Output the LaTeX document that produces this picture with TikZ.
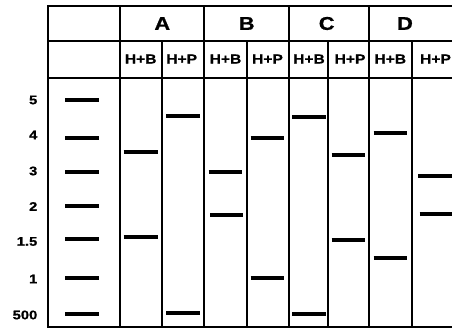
\documentclass[tikz,border=0pt]{standalone}
\usepackage{fontspec}
\setmainfont{Liberation Sans}
\newfontfamily\heavyfont[FakeBold=0.8]{Liberation Sans Bold}
\usetikzlibrary{positioning}
\newcommand{\wide}[1]{\scalebox{1.18}[1]{#1}}

\begin{document}
\begin{tikzpicture}[x=1pt, y=-1pt,
    gridline/.style={line width=2pt, line cap=rect},
    band/.style={line width=4pt},
    lanehead/.style={font=\heavyfont\fontsize{18.5}{18.5}\selectfont, inner sep=0pt},
    sublabel/.style={font=\heavyfont\fontsize{13.2}{13.2}\selectfont, inner sep=0pt},
    sizelabel/.style={font=\heavyfont\fontsize{12.5}{12.5}\selectfont, inner sep=0pt, anchor=east}]
    \useasboundingbox (0,0) rectangle (452,329);

    % Table rules
    \draw[gridline] (48,6) -- (460,6);
    \draw[gridline] (48,40.7) -- (460,40.7);
    \draw[gridline] (48,78) -- (460,78);
    \draw[gridline] (48,327) -- (460,327);
    \draw[gridline] (48,6) -- (48,327);
    \draw[gridline] (120,6) -- (120,327);
    \draw[gridline] (204,6) -- (204,327);
    \draw[gridline] (289,6) -- (289,327);
    \draw[gridline] (369,6) -- (369,327);
    \draw[gridline] (162,40.7) -- (162,327);
    \draw[gridline] (246.7,40.7) -- (246.7,327);
    \draw[gridline] (328.3,40.7) -- (328.3,327);
    \draw[gridline] (412.3,40.7) -- (412.3,327);

    % Lane headers
    \node[lanehead] (hA) at (162.3,23.5) {\wide{A}};
    \node[lanehead] (hB) at (246.7,23.5) {\wide{B}};
    \node[lanehead] (hC) at (326.7,23.5) {\wide{C}};
    \node[lanehead] (hD) at (405,23.5) {\wide{D}};

    \node[sublabel] (sAb) at (140.7,59) {\wide{H+B}};
    \node[sublabel] (sAp) at (181.7,59) {\wide{H+P}};
    \node[sublabel] (sBb) at (225.5,59) {\wide{H+B}};
    \node[sublabel] (sBp) at (267.5,59) {\wide{H+P}};
    \node[sublabel] (sCb) at (309,59) {\wide{H+B}};
    \node[sublabel] (sCp) at (350,59) {\wide{H+P}};
    \node[sublabel] (sDb) at (390.3,59) {\wide{H+B}};
    \node[sublabel] (sDp) at (435.5,59) {\wide{H+P}};

    % Size ladder
    \foreach \t/\ly/\by [count=\i] in {5/100/99.7, 4/135/137.7, 3/171/171.7, 2/206.5/205.7, 1.5/241.5/239.3, 1/279/278, 500/315/313.7} {
        \node[sizelabel] (m\i) at (37.5,\ly) {\wide{\t}};
        \draw[band] (65,\by) -- (98.7,\by);
    }

    % Lane A
    \draw[band] (123.7,152.3) -- (157.7,152.3);
    \draw[band] (123.7,237) -- (157.7,237);
    \draw[band] (166,115.7) -- (200,115.7);
    \draw[band] (166,313.3) -- (200,313.3);

    % Lane B
    \draw[band] (208.7,171.7) -- (242,171.7);
    \draw[band] (210,215.3) -- (243.3,215.3);
    \draw[band] (250.7,137.7) -- (284.3,137.7);
    \draw[band] (250.7,277.7) -- (284.3,277.7);

    % Lane C
    \draw[band] (292.3,117.3) -- (326,117.3);
    \draw[band] (292.3,313.7) -- (326,313.7);
    \draw[band] (331.7,155) -- (365.3,155);
    \draw[band] (331.7,240) -- (365.3,240);

    % Lane D
    \draw[band] (373.7,132.7) -- (407.3,132.7);
    \draw[band] (373.7,258) -- (407.3,258);
    \draw[band] (418,176) -- (452,176);
    \draw[band] (419.7,214) -- (452,214);
\end{tikzpicture}
\end{document}
